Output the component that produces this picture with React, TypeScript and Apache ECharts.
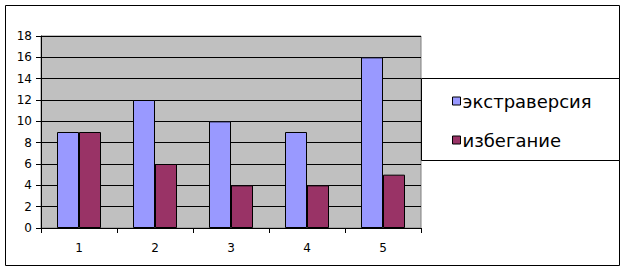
import React, { useEffect, useRef } from "react";
import * as echarts from "echarts";

const categories = ["1", "2", "3", "4", "5"];
const extraversion = [9, 12, 10, 9, 16];
const avoidance = [9, 6, 4, 4, 5];
const seriesNames = ["экстраверсия", "избегание"];

export default function App() {
  const ref = useRef<HTMLDivElement>(null);
  useEffect(() => {
    document.body.style.margin = "0";
    const chart = echarts.init(ref.current!, null, { renderer: "svg" });
    const font = "DejaVu Sans";
    chart.setOption({
      animation: false,
      backgroundColor: "#ffffff",
      textStyle: { fontFamily: font },
      graphic: [
        {
          type: "rect",
          shape: { x: 5.5, y: 5.5, width: 614, height: 260 },
          style: { fill: "none", stroke: "#000", lineWidth: 1 },
          z: -1,
        },
        {
          type: "rect",
          shape: { x: 421.5, y: 78.5, width: 198, height: 82 },
          style: { fill: "#fff", stroke: "#000", lineWidth: 1 },
          z: 0,
        },
      ],
      legend: {
        orient: "vertical",
        left: 447,
        top: 87,
        icon: "rect",
        itemWidth: 8,
        itemHeight: 8,
        itemGap: 21,
        z: 10,
        itemStyle: { borderColor: "#000", borderWidth: 1 },
        textStyle: { fontFamily: font, fontSize: 18, color: "#000", padding: [0, 0, 0, -3] },
        data: seriesNames,
      },
      grid: {
        left: 41,
        top: 36,
        width: 380,
        height: 192,
        show: true,
        backgroundColor: "#c0c0c0",
        borderColor: "#808080",
        borderWidth: 1,
      },
      xAxis: {
        type: "category",
        data: categories,
        boundaryGap: true,
        axisLine: { lineStyle: { color: "#000", width: 1 } },
        axisTick: { show: true, length: 5, alignWithLabel: false, lineStyle: { color: "#000" } },
        axisLabel: { fontSize: 12, color: "#000", margin: 14, fontFamily: font },
        splitLine: { show: false },
      },
      yAxis: {
        type: "value",
        min: 0,
        max: 18,
        interval: 2,
        axisLine: { show: true, lineStyle: { color: "#000", width: 1 } },
        axisTick: { show: true, length: 5, lineStyle: { color: "#000" } },
        axisLabel: { fontSize: 12, color: "#000", margin: 9, fontFamily: font },
        splitLine: { show: true, lineStyle: { color: "#000", width: 1 } },
      },
      series: [
        {
          name: seriesNames[0],
          type: "bar",
          data: extraversion,
          barWidth: 22,
          barGap: "0%",
          itemStyle: { color: "#9999ff", borderColor: "#000", borderWidth: 1 },
        },
        {
          name: seriesNames[1],
          type: "bar",
          data: avoidance,
          barWidth: 22,
          barGap: "0%",
          itemStyle: { color: "#993366", borderColor: "#000", borderWidth: 1 },
        },
      ],
    });
    return () => chart.dispose();
  }, []);
  return <div ref={ref} style={{ width: 625, height: 269 }} />;
}
